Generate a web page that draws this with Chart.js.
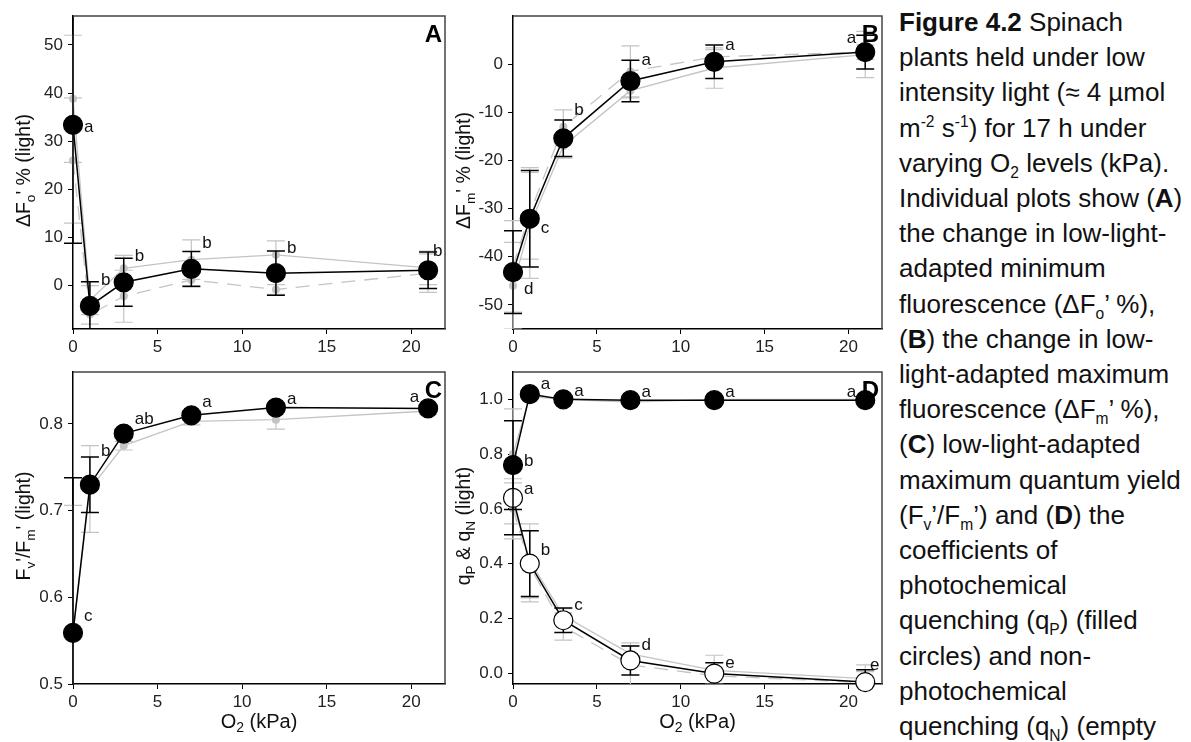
<!DOCTYPE html>
<html>
<head>
<meta charset="utf-8">
<script src="https://cdn.jsdelivr.net/npm/chart.js@4.4.1/dist/chart.umd.min.js"></script>
<style>
  body { margin: 0; background: #fff; width: 1191px; height: 742px; overflow: hidden; position: relative;
         font-family: 'Liberation Sans', Arial, sans-serif; }
  .panel { position: absolute; }
  #caption { position: absolute; left: 899px; top: 5px; font-size: 26px; line-height: 35.2px; color: #111; white-space: nowrap; }
  #caption sub, #caption sup { font-size: 0.6em; line-height: 0; }
</style>
</head>
<body>
<div class="panel" style="left:0;top:0;width:450px;height:356px"><canvas id="ca"></canvas></div>
<div class="panel" style="left:440px;top:0;width:450px;height:356px"><canvas id="cb"></canvas></div>
<div class="panel" style="left:0;top:356px;width:450px;height:386px"><canvas id="cc"></canvas></div>
<div class="panel" style="left:440px;top:356px;width:450px;height:386px"><canvas id="cd"></canvas></div>
<div id="caption">
<b>Figure 4.2</b> Spinach<br>
plants held under low<br>
intensity light (≈ 4 µmol<br>
m<sup>-2</sup> s<sup>-1</sup>) for 17 h under<br>
varying O<sub>2</sub> levels (kPa).<br>
Individual plots show (<b>A</b>)<br>
the change in low-light-<br>
adapted minimum<br>
fluorescence (ΔF<sub>o</sub>’ %),<br>
(<b>B</b>) the change in low-<br>
light-adapted maximum<br>
fluorescence (ΔF<sub>m</sub>’ %),<br>
(<b>C</b>) low-light-adapted<br>
maximum quantum yield<br>
(F<sub>v</sub>’/F<sub>m</sub>’) and (<b>D</b>) the<br>
coefficients of<br>
photochemical<br>
quenching (q<sub>P</sub>) (filled<br>
circles) and non-<br>
photochemical<br>
quenching (q<sub>N</sub>) (empty
</div>
<script>
// O2 levels (kPa)
var o2 = [0, 1, 3, 7, 12, 21];
var o2Ticks = [0, 5, 10, 15, 20];

// A: delta Fo' %
var foMean = [33.4, -4.2, 0.7, 3.5, 2.6, 3.2];
var foErr = [24.6, 5.0, 5.0, 3.6, 4.6, 3.8];
var foSig = ["a", "b", "b", "b", "b", "b"];
var foSigAt = [32.8, 1.2, 6.0, 8.8, 7.7, 7.2];
var foGray1 = [38.8, -3.0, 3.6, 5.4, 6.4, 3.7];
var foGray1Err = [13.2, 3.0, 2.7, 4.1, 2.9, 3.5];
var foGray2 = [26.0, -6.0, -2.2, 1.2, -0.8, 2.6];
var foGray2Err = [13.0, 2.0, 5.4, 1.5, 1.0, 4.0];
var foTicks = [0, 10, 20, 30, 40, 50];

// B: delta Fm' %
var fmMean = [-43.2, -32.1, -15.4, -3.5, 0.5, 2.5];
var fmErr = [8.6, 10.0, 3.8, 4.3, 3.5, 3.5];
var fmSig = ["d", "c", "b", "a", "a", "a"];
var fmSigAt = [-46.8, -34, -9.5, 0.7, 3.9, 5.3];
var fmGray1 = [-46, -33.5, -17, -5.5, -0.8, 2.0];
var fmGray1Err = [9, 11, 2.5, 1.5, 4.2, 4.8];
var fmGray2 = [-42, -31, -13, -1.5, 1.5, 2.5];
var fmGray2Err = [9.5, 9.5, 3.5, 5.3, 1.5, 1.5];
var fmTicks = [-50, -40, -30, -20, -10, 0];

// C: Fv'/Fm'
var fvMean = [0.559, 0.730, 0.789, 0.810, 0.819, 0.818];
var fvErr = [0.179, 0.032, 0.005, 0.005, 0.005, 0.003];
var fvSig = ["c", "b", "ab", "a", "a", "a"];
var fvSigAt = [0.578, 0.768, 0.805, 0.825, 0.829, 0.831];
var fvGray = [0.559, 0.725, 0.775, 0.803, 0.805, 0.815];
var fvGrayErr = [0.147, 0.05, 0.005, 0.004, 0.011, 0.004];
var fvTicks = [0.5, 0.6, 0.7, 0.8];

// D: qP (filled) and qN (empty)
var qpMean = [0.760, 1.019, 1.000, 0.997, 0.997, 0.997];
var qpErr = [0.162, 0.01, 0.005, 0.005, 0.005, 0.005];
var qpSig = ["b", "a", "a", "a", "a", "a"];
var qpSigAt = [0.775, 1.056, 1.031, 1.024, 1.024, 1.024];
var qpGray = [0.80, 1.01, 1.0, 0.99, 1.0, 1.0];
var qpGrayErr = [0.165, 0.01, 0.005, 0.005, 0.005, 0.005];
var qnMean = [0.640, 0.400, 0.193, 0.046, -0.002, -0.033];
var qnErr = [0.135, 0.12, 0.045, 0.053, 0.04, 0.045];
var qnSig = ["a", "b", "c", "d", "e", "e"];
var qnSigAt = [0.672, 0.449, 0.246, 0.101, 0.037, 0.028];
var qnGray1 = [0.62, 0.41, 0.21, 0.07, 0.01, -0.02];
var qnGray1Err = [0.075, 0.135, 0.025, 0.03, 0.055, 0.05];
var qnGray2 = [0.60, 0.39, 0.17, 0.03, -0.01, -0.035];
var qnGray2Err = [0.11, 0.13, 0.05, 0.08, 0.03, 0.04];
var qTicks = [0, 0.2, 0.4, 0.6, 0.8, 1.0];

var FONT = "'Liberation Sans', Arial, sans-serif";
var GRAY = "#c4c4c4";

function pts(ys) {
  return o2.map(function (x, i) { return { x: x, y: ys[i] }; });
}

function blackSet(ys, errs, sig, sigAt, open) {
  return {
    data: pts(ys), errors: errs, errorColor: "#000", errorWidth: 1.5,
    sig: sig, sigAt: sigAt,
    showLine: true, borderColor: "#000", borderWidth: 1.5,
    pointRadius: 9.5, pointBackgroundColor: open ? "#fff" : "#000",
    pointBorderColor: "#000", pointBorderWidth: 1.2, clip: false
  };
}

function graySet(ys, errs, dashed) {
  return {
    data: pts(ys), errors: errs, errorColor: GRAY, errorWidth: 1.2,
    showLine: true, borderColor: GRAY, borderWidth: 1.3,
    borderDash: dashed ? [14, 9] : [],
    pointRadius: 4, pointBackgroundColor: GRAY, pointBorderColor: GRAY,
    pointBorderWidth: 0, clip: false
  };
}

function drawRich(ctx, parts, x, y, size, rotate) {
  ctx.save();
  ctx.translate(x, y);
  if (rotate) ctx.rotate(-Math.PI / 2);
  var w = 0;
  parts.forEach(function (p) {
    ctx.font = (p[1] ? size * 0.7 : size) + "px " + FONT;
    w += ctx.measureText(p[0]).width;
  });
  var cx = -w / 2;
  ctx.textBaseline = "middle";
  ctx.textAlign = "left";
  ctx.fillStyle = "#111";
  parts.forEach(function (p) {
    ctx.font = (p[1] ? size * 0.7 : size) + "px " + FONT;
    ctx.fillText(p[0], cx, p[1] ? size * 0.32 : 0);
    cx += ctx.measureText(p[0]).width;
  });
  ctx.restore();
}

var extras = {
  id: "extras",
  beforeDatasetDraw: function (chart, args) {
    var ds = chart.data.datasets[args.index];
    if (!ds.errors) return;
    var ctx = chart.ctx, xs = chart.scales.x, ys = chart.scales.y, a = chart.chartArea;
    ctx.save();
    ctx.beginPath();
    ctx.rect(a.left - 20, a.top, a.width + 40, a.height);
    ctx.clip();
    ctx.strokeStyle = ds.errorColor;
    ctx.lineWidth = ds.errorWidth;
    ds.data.forEach(function (p, i) {
      var e = ds.errors[i];
      if (!e) return;
      var px = xs.getPixelForValue(p.x);
      var top = ys.getPixelForValue(p.y + e);
      var bot = ys.getPixelForValue(p.y - e);
      ctx.beginPath();
      ctx.moveTo(px, top); ctx.lineTo(px, bot);
      ctx.moveTo(px - 9, top); ctx.lineTo(px + 9, top);
      ctx.moveTo(px - 9, bot); ctx.lineTo(px + 9, bot);
      ctx.stroke();
    });
    ctx.restore();
  },
  afterDatasetsDraw: function (chart) {
    var ctx = chart.ctx, xs = chart.scales.x, ys = chart.scales.y, a = chart.chartArea;
    var o = chart.options.plugins.extras;
    // frame top / right
    ctx.save();
    ctx.strokeStyle = "#444";
    ctx.lineWidth = 1.5;
    ctx.beginPath();
    ctx.moveTo(a.left, a.top); ctx.lineTo(a.right, a.top); ctx.lineTo(a.right, a.bottom);
    ctx.stroke();
    // significance letters
    ctx.fillStyle = "#111";
    ctx.font = "17px " + FONT;
    ctx.textBaseline = "middle";
    chart.data.datasets.forEach(function (ds) {
      if (!ds.sig) return;
      ds.data.forEach(function (p, i) {
        var px = xs.getPixelForValue(p.x);
        var py = ys.getPixelForValue(ds.sigAt[i]);
        if (px + 25 > a.right && py < a.top + 45) {
          ctx.textAlign = "right";
          ctx.fillText(ds.sig[i], px - 9, py);
        } else {
          ctx.textAlign = "left";
          ctx.fillText(ds.sig[i], Math.min(px + 11, a.right - 12), py);
        }
      });
    });
    // panel letter
    ctx.font = "bold 24px " + FONT;
    ctx.textAlign = "right";
    ctx.textBaseline = "alphabetic";
    ctx.fillStyle = "#000";
    ctx.fillText(o.letter, a.right - 3, a.top + 26);
    ctx.restore();
    drawRich(ctx, o.yTitle, a.left - 48, (a.top + a.bottom) / 2 - 2, 19.5, true);
    if (o.xTitle) drawRich(ctx, o.xTitle, (a.left + a.right) / 2, a.bottom + 38, 20, false);
  }
};

function makeChart(id, datasets, yMin, yMax, yTicks, yFmt, box, opts) {
  var tickFont = { family: FONT, size: 17 };
  return new Chart(document.getElementById(id), {
    type: "scatter",
    data: { datasets: datasets },
    plugins: [extras],
    options: {
      responsive: true, maintainAspectRatio: false, animation: false,
      layout: { autoPadding: false, padding: { top: box.top, right: box.right, bottom: 0, left: 0 } },
      plugins: { legend: { display: false }, tooltip: { enabled: false }, extras: opts },
      scales: {
        x: {
          type: "linear", min: 0, max: 22,
          afterBuildTicks: function (s) { s.ticks = o2Ticks.map(function (v) { return { value: v }; }); },
          afterFit: function (s) { s.height = box.xh; },
          grid: { drawOnChartArea: false, drawTicks: true, tickLength: 5, color: "#000", lineWidth: 1 },
          border: { display: true, color: "#000", width: 1.5 },
          ticks: { color: "#222", font: tickFont, padding: 3, maxRotation: 0, autoSkip: false }
        },
        y: {
          type: "linear", min: yMin, max: yMax,
          afterBuildTicks: function (s) { s.ticks = yTicks.map(function (v) { return { value: v }; }); },
          afterFit: function (s) { s.width = box.yw; },
          grid: { drawOnChartArea: false, drawTicks: true, tickLength: 5, color: "#000", lineWidth: 1 },
          border: { display: true, color: "#000", width: 1.5 },
          ticks: { color: "#222", font: tickFont, padding: 5, autoSkip: false, callback: yFmt }
        }
      }
    }
  });
}

var intFmt = function (v) { return String(v); };
var oneFmt = function (v) { return v.toFixed(1); };

makeChart("ca", [
  blackSet(foMean, foErr, foSig, foSigAt, false),
  graySet(foGray1, foGray1Err, false),
  graySet(foGray2, foGray2Err, true)
], -9, 56, foTicks, intFmt, { top: 16, right: 5, xh: 27, yw: 73 },
  { letter: "A", yTitle: [["\u0394F"], ["o", 1], ["' % (light)"]], xTitle: null });

makeChart("cb", [
  blackSet(fmMean, fmErr, fmSig, fmSigAt, false),
  graySet(fmGray1, fmGray1Err, false),
  graySet(fmGray2, fmGray2Err, true)
], -55, 10, fmTicks, intFmt, { top: 16, right: 8, xh: 27, yw: 73 },
  { letter: "B", yTitle: [["\u0394F"], ["m", 1], ["' % (light)"]], xTitle: null });

makeChart("cc", [
  blackSet(fvMean, fvErr, fvSig, fvSigAt, false),
  graySet(fvGray, fvGrayErr, false)
], 0.5, 0.86, fvTicks, oneFmt, { top: 16, right: 5, xh: 58, yw: 73 },
  { letter: "C", yTitle: [["F"], ["v", 1], ["'/F"], ["m", 1], ["' (light)"]], xTitle: [["O"], ["2", 1], [" (kPa)"]] });

makeChart("cd", [
  blackSet(qpMean, qpErr, qpSig, qpSigAt, false),
  blackSet(qnMean, qnErr, qnSig, qnSigAt, true),
  graySet(qpGray, qpGrayErr, false),
  graySet(qnGray1, qnGray1Err, false),
  graySet(qnGray2, qnGray2Err, true)
], -0.04, 1.1, qTicks, oneFmt, { top: 16, right: 8, xh: 58, yw: 73 },
  { letter: "D", yTitle: [["q"], ["P", 1], [" & q"], ["N", 1], [" (light)"]], xTitle: [["O"], ["2", 1], [" (kPa)"]] });
</script>
</body>
</html>
